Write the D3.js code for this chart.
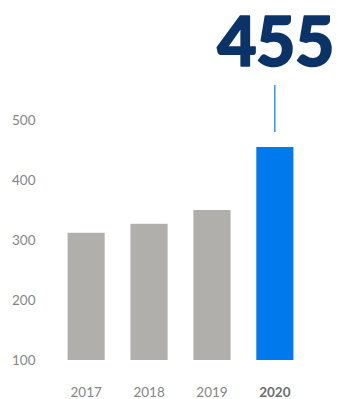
<!DOCTYPE html>
<html>
<head>
<meta charset="utf-8">
<script src="https://cdn.jsdelivr.net/npm/d3@7"></script>
<style>
  html, body { margin: 0; padding: 0; background: #fff; }
  svg { display: block; }
</style>
</head>
<body>
<svg id="chart" width="340" height="399"></svg>
<script>
// Yearly totals
const years = ["2017", "2018", "2019", "2020"];
const values = [312, 327, 350, 455];
const yTicks = [100, 200, 300, 400, 500];
const highlightYear = "2020";

const svg = d3.select("#chart");
const font = "Lato, 'Open Sans', sans-serif";

const x = d3.scaleBand()
  .domain(years)
  .range([55, 306])
  .paddingInner(0.41)
  .paddingOuter(0.2);

const y = d3.scaleLinear()
  .domain([100, 500])
  .range([360, 120]);

// Value axis (labels only)
const yAxis = svg.append("g")
  .attr("transform", "translate(12,0)")
  .call(d3.axisRight(y).tickValues(yTicks).tickSize(0).tickPadding(0));
yAxis.select(".domain").remove();
yAxis.selectAll("text")
  .attr("fill", "#858585")
  .style("font-family", font)
  .style("font-size", "13.5px");

// Bars
svg.append("g").selectAll("rect")
  .data(years)
  .join("rect")
  .attr("x", d => x(d))
  .attr("width", x.bandwidth())
  .attr("y", (d, i) => y(values[i]))
  .attr("height", (d, i) => y(100) - y(values[i]))
  .attr("fill", d => d === highlightYear ? "#0079ec" : "#b0afab");

// Year axis
const xAxis = svg.append("g")
  .attr("transform", "translate(0,384)")
  .call(d3.axisBottom(x).tickSize(0).tickPadding(0));
xAxis.select(".domain").remove();
xAxis.selectAll("text")
  .attr("dy", "0.95em")
  .attr("fill", d => d === highlightYear ? "#6e6e6e" : "#858585")
  .style("font-weight", d => d === highlightYear ? 700 : 400)
  .style("font-family", font)
  .style("font-size", "13.5px");

// Highlight callout
const hi = years.indexOf(highlightYear);
const cx = x(highlightYear) + x.bandwidth() / 2;
svg.append("line")
  .attr("x1", cx).attr("x2", cx)
  .attr("y1", 85).attr("y2", 132)
  .attr("stroke", "#0079ec")
  .attr("stroke-width", 1.2);

svg.append("text")
  .attr("x", 334)
  .attr("y", 66)
  .attr("text-anchor", "end")
  .attr("fill", "#0c3367")
  .attr("stroke", "#0c3367")
  .attr("stroke-width", 1.6)
  .attr("stroke-linejoin", "round")
  .style("font-family", font)
  .style("font-weight", 900)
  .style("font-size", "68px")
  .style("letter-spacing", "-0.5px")
  .text(values[hi]);
</script>
</body>
</html>
